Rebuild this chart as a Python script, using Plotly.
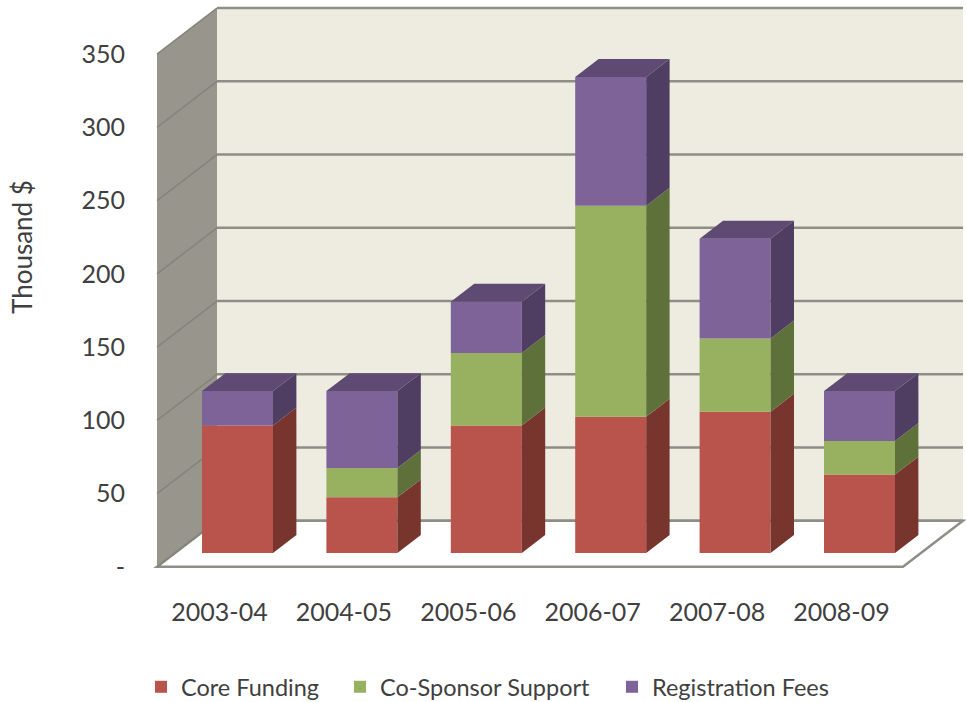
import plotly.graph_objects as go

years = ["2003-04", "2004-05", "2005-06", "2006-07", "2007-08", "2008-09"]
core_funding = [87, 38, 87, 93, 96.5, 53.5]
co_sponsor = [0, 20, 49.5, 144, 50, 23]
registration = [23.5, 52.5, 35, 88, 68, 34]
tick_values = [0, 50, 100, 150, 200, 250, 300, 350]
tick_labels = ["-", "50", "100", "150", "200", "250", "300", "350"]

FONT = "Lato"
TEXT = "#404040"
GRID = "#8e8e86"

# pixel scales of the picture, bars sit on the plane depth=0
PX_X = 124.4
PX_Y = 1.465
DEPTH_X = 60 / PX_X
DEPTH_Y = 46 / PX_Y
FRONT = -0.3
BACK = 0.7
BAR_D = 0.39
BAR_W = 71 / PX_X
LEFT_CAT = -0.5 * BAR_W - 27 / PX_X
RIGHT_CAT = 5 + 0.5 * BAR_W + 26 / PX_X


def pt(x, v, d):
    return x + d * DEPTH_X, v + d * DEPTH_Y


def poly(points):
    coords = [pt(*p) for p in points]
    return "M" + " L".join(f"{a},{b}" for a, b in coords) + " Z"


series = [
    ("Core Funding", core_funding, "#b8544b", "#77352e", "legend"),
    ("Co-Sponsor Support", co_sponsor, "#98b160", "#5f713b", "legend2"),
    ("Registration Fees", registration, "#7e6399", "#4f3d62", "legend3"),
]

fig = go.Figure()
bases = [0] * len(years)
xs = list(range(len(years)))
for name, vals, col, side, leg in series:
    fig.add_trace(go.Bar(x=xs, y=vals, base=bases, name=name, width=BAR_W, legend=leg,
                         marker=dict(color=col, line=dict(width=0)), hoverinfo="skip"))
    for i, (b, v) in enumerate(zip(bases, vals)):
        if v == 0:
            continue
        r = i + BAR_W / 2
        corners = [pt(r, b, 0), pt(r, b + v, 0), pt(r, b + v, BAR_D), pt(r, b, BAR_D), pt(r, b, 0)]
        fig.add_trace(go.Scatter(x=[c[0] for c in corners], y=[c[1] for c in corners],
                                 mode="lines", fill="toself", fillcolor=side, line=dict(width=0),
                                 showlegend=False, hoverinfo="skip"))
    bases = [b + v for b, v in zip(bases, vals)]

# bar tops
for i, t in enumerate(bases):
    l, r = i - BAR_W / 2, i + BAR_W / 2
    corners = [pt(l, t, 0), pt(r, t, 0), pt(r, t, BAR_D), pt(l, t, BAR_D), pt(l, t, 0)]
    fig.add_trace(go.Scatter(x=[c[0] for c in corners], y=[c[1] for c in corners],
                             mode="lines", fill="toself", fillcolor="#5e4a72", line=dict(width=0),
                             showlegend=False, hoverinfo="skip"))

# walls and floor
shapes = []
top = tick_values[-1]
shapes.append(dict(type="path", path=poly([(LEFT_CAT, 0, BACK), (RIGHT_CAT, 0, BACK), (RIGHT_CAT, top, BACK), (LEFT_CAT, top, BACK)]),
                   fillcolor="#eeece1", line=dict(width=0), layer="below"))
shapes.append(dict(type="path", path=poly([(LEFT_CAT, 0, FRONT), (LEFT_CAT, top, FRONT), (LEFT_CAT, top, BACK), (LEFT_CAT, 0, BACK)]),
                   fillcolor="#97958c", line=dict(width=0), layer="below"))
shapes.append(dict(type="path", path=poly([(LEFT_CAT, 0, FRONT), (RIGHT_CAT, 0, FRONT), (RIGHT_CAT, 0, BACK), (LEFT_CAT, 0, BACK)]),
                   fillcolor="#ffffff", line=dict(color=GRID, width=2.5), layer="below"))
for v in tick_values:
    a, b, c = pt(LEFT_CAT, v, FRONT), pt(LEFT_CAT, v, BACK), pt(RIGHT_CAT, v, BACK)
    shapes.append(dict(type="line", x0=a[0], y0=a[1], x1=b[0], y1=b[1], line=dict(color="#85847c", width=1.5), layer="below"))
    shapes.append(dict(type="line", x0=b[0], y0=b[1], x1=c[0], y1=c[1], line=dict(color=GRID, width=2.5), layer="below"))

LEFT, BOTTOM_PX = 126, 590


def legend_at(px):
    return dict(orientation="h", x=(px - LEFT) / (966 - LEFT), xanchor="left",
                y=(BOTTOM_PX - 687) / BOTTOM_PX, yanchor="middle",
                font=dict(size=23.5, color=TEXT), bgcolor="rgba(0,0,0,0)")


fig.update_layout(
    width=966, height=702,
    margin=dict(l=LEFT, r=0, t=0, b=702 - BOTTOM_PX, autoexpand=False),
    paper_bgcolor="white", plot_bgcolor="rgba(0,0,0,0)",
    barmode="overlay",
    shapes=shapes,
    font=dict(family=FONT, color=TEXT),
    xaxis=dict(range=[(LEFT - 237.5) / PX_X, (966 - 237.5) / PX_X],
               tickvals=[x + FRONT * DEPTH_X for x in xs], ticktext=years,
               tickfont=dict(size=25, color=TEXT), showgrid=False, zeroline=False, showline=False, ticks="",
               ticklabelstandoff=5),
    yaxis=dict(range=[(553 - BOTTOM_PX) / PX_Y, 553 / PX_Y],
               tickvals=[v + FRONT * DEPTH_Y for v in tick_values], ticktext=tick_labels,
               tickfont=dict(size=25, color=TEXT), showgrid=False, zeroline=False, showline=False, ticks=""),
    legend=legend_at(141),
    legend2=legend_at(340),
    legend3=legend_at(612),
    annotations=[dict(text="Thousand $", textangle=-90, xref="paper", yref="paper",
                      x=(22 - LEFT) / (966 - LEFT), y=(BOTTOM_PX - 247) / BOTTOM_PX,
                      xanchor="center", yanchor="middle",
                      showarrow=False, font=dict(size=26, color=TEXT))],
    showlegend=True,
)

fig.write_html("out.html", config={"displayModeBar": False}, post_script="document.body.style.margin='0';")
